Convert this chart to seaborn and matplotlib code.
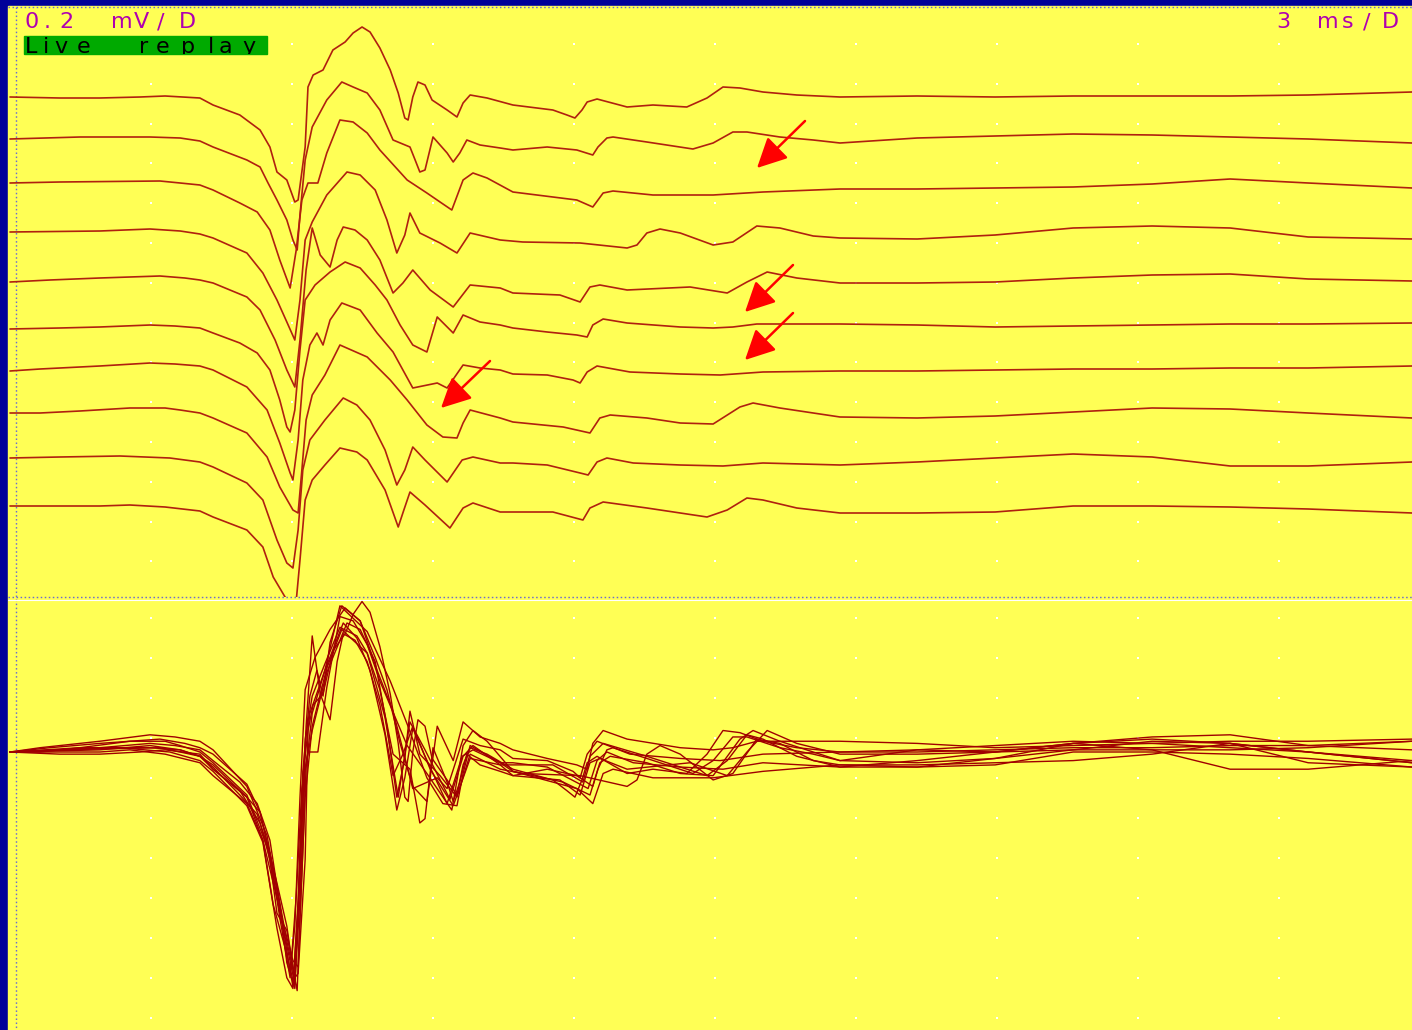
import matplotlib
matplotlib.use("Agg")
import matplotlib.pyplot as plt
from matplotlib.patches import Rectangle
from matplotlib.transforms import Bbox, TransformedBbox
import numpy as np
import pandas as pd
import seaborn as sns

# ten consecutive responses, (time ms, amplitude uV)
trace_01 = [
    (0.00, 0), (1.06, -5), (1.91, -5), (2.77, 0), (3.30, 5), (4.04, -5), (4.32, -40), (4.89, -90),
    (5.32, -165), (5.53, -250), (5.68, -375), (5.89, -415), (6.06, -525), (6.13, -515), (6.28, -250),
    (6.34, 50), (6.45, 110), (6.66, 135), (6.87, 235), (7.13, 275), (7.30, 320), (7.49, 350), (7.66, 325),
    (7.87, 245), (8.09, 135), (8.26, 20), (8.40, -105), (8.47, -115), (8.57, 0), (8.68, 75), (8.83, 60),
    (8.98, -15), (9.30, -65), (9.51, -100), (9.64, -30), (9.79, 10), (10.15, -5), (10.70, -40),
    (11.55, -65), (11.85, -90), (12.02, -105), (12.17, -65), (12.28, -25), (12.49, -10), (13.13, -50),
    (13.68, -40), (14.40, -50), (14.83, -5), (15.17, 50), (15.53, 45), (16.02, 25), (16.74, 10),
    (17.66, 0), (19.30, 5), (20.96, 0), (22.62, 5), (24.30, 5), (25.96, 5), (27.62, 10), (29.83, 25),
]
trace_02 = [
    (0.00, 0), (1.49, 10), (2.98, 10), (3.62, 5), (4.04, -10), (4.32, -40), (5.04, -105), (5.32, -140),
    (5.49, -220), (5.68, -305), (5.89, -405), (6.02, -505), (6.11, -555), (6.17, -380), (6.28, -105),
    (6.43, 60), (6.74, 195), (7.06, 285), (7.30, 260), (7.60, 230), (7.87, 145), (8.15, -5), (8.51, -40),
    (8.62, -105), (8.72, -165), (8.83, -155), (9.00, 10), (9.15, -30), (9.30, -70), (9.43, -115),
    (9.57, -70), (9.72, -5), (10.00, -30), (10.43, -45), (10.70, -55), (11.43, -40), (12.06, -55),
    (12.40, -80), (12.51, -40), (12.70, 5), (12.83, 10), (13.55, -15), (14.53, -50), (14.96, -20),
    (15.38, 35), (15.68, 35), (16.38, 10), (17.09, -5), (17.66, -20), (19.30, 5), (20.96, 15),
    (22.62, 25), (24.30, 20), (25.96, 10), (27.62, 0), (29.83, -20),
]
trace_03 = [
    (0.00, 0), (1.06, 5), (3.19, 10), (3.62, 0), (4.04, -10), (4.32, -35), (4.89, -100), (5.26, -145),
    (5.53, -235), (5.74, -385), (5.96, -525), (6.09, -335), (6.21, -85), (6.34, 0), (6.55, 0),
    (6.74, 150), (7.02, 315), (7.30, 305), (7.60, 250), (7.87, 165), (8.45, 15), (8.87, -50),
    (9.15, -95), (9.40, -135), (9.64, 15), (9.85, 50), (10.15, 25), (10.70, -45), (12.06, -85),
    (12.40, -120), (12.62, -50), (12.83, -40), (13.68, -60), (14.96, -60), (16.02, -45), (17.66, -30),
    (19.30, -30), (20.96, -25), (22.62, -20), (24.30, -5), (25.96, 20), (27.62, 0), (29.83, -25),
]
trace_04 = [
    (0.00, 0), (1.91, 5), (2.98, 15), (3.62, 5), (4.04, -10), (4.32, -30), (5.04, -105), (5.38, -205),
    (5.68, -340), (5.89, -450), (6.06, -540), (6.17, -340), (6.28, -40), (6.43, 50), (6.74, 185),
    (7.17, 300), (7.45, 285), (7.77, 210), (8.02, 60), (8.23, -105), (8.40, -15), (8.51, 95), (8.72, -5),
    (9.15, -55), (9.51, -105), (9.79, -5), (10.43, -40), (10.91, -50), (12.13, -55), (13.13, -80),
    (13.34, -65), (13.55, -5), (13.83, 15), (14.26, -5), (14.96, -65), (15.38, -50), (15.89, 30),
    (16.38, 20), (17.09, -20), (17.66, -30), (19.30, -35), (20.96, -15), (22.62, 20), (24.30, 30),
    (25.96, 20), (27.62, -25), (29.83, -35),
]
trace_05 = [
    (0.00, 0), (0.85, 10), (1.91, 20), (3.19, 30), (3.72, 20), (4.04, 10), (4.32, -5), (5.04, -75),
    (5.32, -140), (5.64, -290), (5.89, -440), (6.06, -525), (6.17, -290), (6.30, 60), (6.43, 270),
    (6.60, 135), (6.81, 75), (6.96, 210), (7.09, 275), (7.34, 260), (7.60, 210), (7.87, 110),
    (8.15, -55), (8.36, -5), (8.57, 60), (8.94, -40), (9.43, -125), (9.79, -15), (10.43, -30),
    (10.70, -55), (11.70, -65), (12.13, -100), (12.34, -25), (12.55, -15), (13.13, -40), (14.47, -25),
    (15.26, -55), (15.68, 0), (16.11, 50), (16.74, 20), (17.66, -5), (19.30, -5), (20.96, 0),
    (22.62, 20), (24.30, 35), (25.96, 40), (27.62, 15), (29.83, 5),
]
trace_06 = [
    (0.00, 0), (1.06, 5), (1.91, 10), (2.98, 20), (3.51, 15), (4.04, 5), (4.32, -20), (4.89, -70),
    (5.26, -120), (5.53, -205), (5.74, -355), (5.89, -490), (5.96, -515), (6.06, -405), (6.17, -105),
    (6.28, 145), (6.49, 220), (6.81, 285), (7.13, 335), (7.45, 305), (7.77, 220), (8.02, 145),
    (8.30, 20), (8.57, -80), (8.87, -115), (9.09, 60), (9.26, 20), (9.43, -20), (9.64, 70), (10.00, 35),
    (10.43, 20), (10.70, 5), (11.43, -15), (12.06, -30), (12.28, -40), (12.40, 20), (12.62, 50),
    (13.13, 30), (14.26, 10), (14.96, 5), (15.38, 10), (15.89, 25), (17.66, 25), (19.30, 20),
    (20.96, 10), (22.62, 15), (24.30, 20), (25.96, 25), (27.62, 25), (29.83, 30),
]
trace_07 = [
    (0.00, 0), (0.64, 10), (1.91, 25), (2.98, 40), (3.51, 35), (4.04, 25), (4.32, 5), (5.04, -80),
    (5.47, -195), (5.74, -360), (5.96, -510), (6.02, -545), (6.13, -345), (6.23, -45), (6.38, 130),
    (6.53, 190), (6.66, 130), (6.81, 255), (7.06, 340), (7.45, 305), (7.81, 190), (8.15, 95),
    (8.57, -85), (9.09, -60), (9.30, -85), (9.64, 30), (10.00, 15), (10.43, 5), (10.70, -15),
    (11.43, -20), (11.98, -45), (12.13, -60), (12.28, -5), (12.49, 25), (13.19, -5), (14.26, -15),
    (15.11, -20), (16.02, -5), (17.66, 0), (19.30, 0), (20.96, 5), (22.62, 10), (24.30, 10),
    (25.96, 15), (27.62, 15), (29.83, 25),
]
trace_08 = [
    (0.00, 0), (0.64, 0), (1.49, 10), (2.55, 25), (3.30, 25), (3.62, 15), (4.04, 0), (4.32, -25),
    (5.04, -100), (5.47, -220), (5.74, -370), (6.02, -485), (6.13, -500), (6.21, -285), (6.30, -35),
    (6.43, 90), (6.70, 190), (7.02, 340), (7.60, 280), (8.09, 165), (8.45, 65), (8.87, -60),
    (9.21, -120), (9.51, -125), (9.64, -50), (9.79, 15), (10.43, -25), (10.70, -45), (11.77, -70),
    (12.34, -100), (12.55, -25), (12.77, -10), (13.55, -25), (14.26, -50), (14.96, -55), (15.53, 30),
    (15.81, 50), (16.38, 25), (17.09, 0), (17.66, -20), (19.30, -25), (20.96, -15), (22.62, 5),
    (24.30, 25), (25.96, 20), (27.62, 0), (29.83, -25),
]
trace_09 = [
    (0.00, 0), (1.06, 5), (2.34, 10), (3.40, 0), (4.04, -20), (4.32, -45), (5.04, -125), (5.38, -210),
    (5.68, -410), (5.89, -525), (6.02, -550), (6.13, -360), (6.23, -60), (6.38, 90), (6.70, 190),
    (7.09, 300), (7.38, 265), (7.66, 190), (7.98, 40), (8.23, -135), (8.40, -60), (8.57, 55),
    (8.83, -10), (9.30, -120), (9.62, -10), (9.85, 5), (10.43, -25), (10.70, -25), (11.43, -35),
    (12.13, -75), (12.30, -85), (12.49, -20), (12.70, 0), (13.26, -25), (14.26, -35), (15.17, -40),
    (16.02, -25), (17.66, -35), (19.30, -20), (20.96, 0), (22.62, 20), (24.30, 5), (25.96, -40),
    (27.62, -40), (29.83, -20),
]
trace_10 = [
    (0.00, 0), (1.91, 0), (2.55, 5), (3.30, -5), (4.04, -25), (4.32, -55), (5.04, -120), (5.38, -205),
    (5.60, -355), (5.89, -470), (6.06, -550), (6.17, -270), (6.28, 30), (6.43, 130), (6.70, 205),
    (7.02, 290), (7.38, 270), (7.60, 230), (7.98, 80), (8.26, -105), (8.38, -20), (8.51, 70),
    (8.83, 5), (9.36, -110), (9.64, -10), (9.85, 15), (10.43, -30), (10.70, -30), (11.55, -30),
    (12.19, -70), (12.34, -10), (12.62, 20), (13.55, -10), (14.83, -55), (15.26, -20), (15.68, 40),
    (16.02, 30), (16.74, -10), (17.66, -35), (19.30, -35), (20.96, -30), (22.62, 0), (24.30, 0),
    (25.96, -5), (27.62, -15), (29.83, -35),
]
traces = [trace_01, trace_02, trace_03, trace_04, trace_05,
          trace_06, trace_07, trace_08, trace_09, trace_10]

gain_label = "0.2 mV/D"
time_label = "3 ms/D"
mode_label = "Live replay"

# ---- screen layout (pixels) ----
W, H = 1412, 1030
px_per_ms = 141 / 3.0          # one division = 141 px = 3 ms
uv_per_px_top = 5.0            # 0.2 mV per 40 px
uv_per_px_bot = 5.0 / 2.15     # superimposed view, higher gain
top_y0, top_y1 = 7, 597
bot_y0, bot_base = 599, 752
offsets_px = [97, 139, 183, 232, 282, 329, 371, 413, 458, 506]

rows = []
for i, tr in enumerate(traces):
    for t, uv in tr:
        rows.append((i, t, uv, uv - offsets_px[i] * uv_per_px_top))
df = pd.DataFrame(rows, columns=["trace", "t", "uv", "y_top"])

sns.set_style("white")
fig = plt.figure(figsize=(W / 100, H / 100), dpi=100)
fig.patch.set_facecolor("#000099")

# background / screen decoration in pixel space
deco = fig.add_axes([0, 0, 1, 1], zorder=0)
deco.set_xlim(0, W)
deco.set_ylim(H, 0)
deco.axis("off")
deco.add_patch(Rectangle((8, 6), W - 8, H - 6, color="#FFFF55", zorder=0))
dot_kw = dict(color="#6A6AD0", lw=1.0, linestyle=(0, (1.1, 1.8)), zorder=1)
deco.plot([8, W], [7, 7], **dot_kw)
deco.plot([16, 16], [7, H], **dot_kw)
deco.plot([8, W], [596.5, 596.5], **dot_kw)
deco.plot([8, W], [599.5, 599.5], color="white", lw=0.8, zorder=1)
gx = [10 + 141 * k for k in range(1, 10)]
gy = [44 + 39.8 * j for j in range(14)] + [618 + 40 * j for j in range(11)]
gxx, gyy = np.meshgrid(gx, gy)
deco.scatter(gxx.ravel(), gyy.ravel(), s=1.2, marker="s", color="white", lw=0, zorder=1)

font_kw = dict(family="DejaVu Sans", fontsize=16, va="baseline", ha="left")
for ch, x in zip(gain_label, [24, 44, 59, 90, 111, 134, 157, 179]):
    deco.text(x, 28.5, ch, color="#B000B0", **font_kw)
for ch, x in zip(time_label, [1276, 1299, 1317, 1342, 1363, 1382]):
    deco.text(x, 28.5, ch, color="#B000B0", **font_kw)
deco.add_patch(Rectangle((24, 36), 243, 18, color="#00AA00", zorder=1))
clip = TransformedBbox(Bbox.from_extents(24, 36, 267, 54), deco.transData)
for ch, x in zip(mode_label, [25, 43, 54, 77, 118, 139, 156, 181, 208, 219, 242]):
    t = deco.text(x, 53, ch, color="black", **font_kw)
    t.set_clip_box(clip)
    t.set_clip_on(True)

xlim = ((8 - 10) / px_per_ms, (W - 10) / px_per_ms)

# stacked traces
ax_top = fig.add_axes([8 / W, 1 - top_y1 / H, (W - 8) / W, (top_y1 - top_y0) / H], zorder=1)
sns.lineplot(data=df, x="t", y="y_top", units="trace", estimator=None, sort=False,
             color="#B0200F", lw=1.2, ax=ax_top, legend=False)
ax_top.set_xlim(*xlim)
ax_top.set_ylim(-top_y1 * uv_per_px_top, -top_y0 * uv_per_px_top)
ax_top.axis("off")
ax_top.patch.set_alpha(0)

# superimposed traces
ax_bot = fig.add_axes([8 / W, 0, (W - 8) / W, (H - bot_y0) / H], zorder=1)
sns.lineplot(data=df, x="t", y="uv", units="trace", estimator=None, sort=False,
             color="#A00000", lw=1.0, ax=ax_bot, legend=False)
ax_bot.set_xlim(*xlim)
ax_bot.set_ylim((bot_base - H) * uv_per_px_bot, (bot_base - bot_y0) * uv_per_px_bot)
ax_bot.axis("off")
ax_bot.patch.set_alpha(0)

# red arrows marking the missing late component
over = fig.add_axes([0, 0, 1, 1], zorder=2)
over.set_xlim(0, W)
over.set_ylim(H, 0)
over.axis("off")
over.patch.set_alpha(0)
for (x0, y0), (x1, y1) in [((805, 121), (757, 168)), ((793, 265), (745, 312)),
                           ((793, 313), (745, 360)), ((490, 361), (441, 408))]:
    over.annotate("", xy=(x1, y1), xytext=(x0, y0),
                  arrowprops=dict(arrowstyle="-|>,head_length=0.7,head_width=0.35",
                                  color="#FF0000", lw=1.8,
                                  mutation_scale=26, shrinkA=0, shrinkB=0))

fig.savefig("out.png", dpi=100, facecolor=fig.get_facecolor())
